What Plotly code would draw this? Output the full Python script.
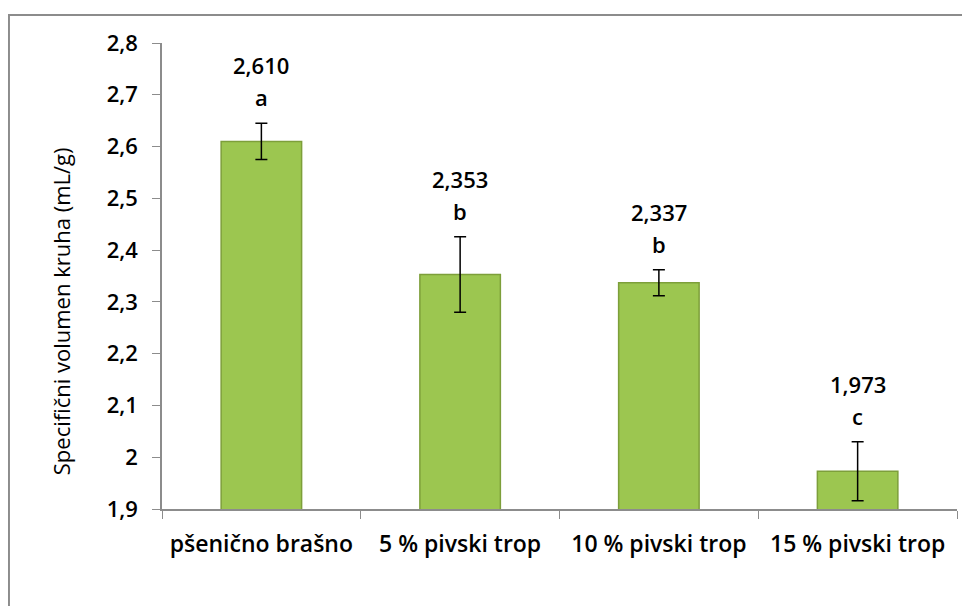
import plotly.graph_objects as go

categories = ["pšenično brašno", "5 % pivski trop", "10 % pivski trop", "15 % pivski trop"]
means = [2.610, 2.353, 2.337, 1.973]
errors = [0.035, 0.073, 0.025, 0.057]
letters = ["a", "b", "b", "c"]
y_ticks = [1.9, 2.0, 2.1, 2.2, 2.3, 2.4, 2.5, 2.6, 2.7, 2.8]
y_tick_labels = ["1,9", "2", "2,1", "2,2", "2,3", "2,4", "2,5", "2,6", "2,7", "2,8"]
y_title = "Specifični volumen kruha (mL/g)"

font_name = "Open Sans"
x_font = dict(family=font_name, size=23, color="black", weight=600)
y_font = dict(family=font_name, size=22, color="black", weight=600)
ann_font = dict(family=font_name, size=22, color="black", weight=600)

fig = go.Figure()
fig.add_trace(go.Bar(
    x=categories,
    y=means,
    width=0.405,
    marker=dict(color="#9cc650", line=dict(color="#7d9f3a", width=1.5)),
    error_y=dict(type="data", array=errors, visible=True,
                 color="black", thickness=1.5, width=6),
))

# mean value and letter above each error bar
for cat, m, e, let in zip(categories, means, errors, letters):
    fig.add_annotation(x=cat, y=m + e, text=let, showarrow=False,
                       yanchor="bottom", yshift=9, font=ann_font)
    fig.add_annotation(x=cat, y=m + e, text=f"{m:.3f}".replace(".", ","),
                       showarrow=False, yanchor="bottom", yshift=41,
                       font=ann_font)

# y title sits a bit below the middle, as in the original
fig.add_annotation(xref="paper", yref="paper", x=-0.126, y=0.424,
                   xanchor="center", yanchor="middle",
                   text=y_title, textangle=-90, showarrow=False,
                   font=dict(family=font_name, size=22, color="black"))

# outer chart border
fig.add_shape(type="rect", xref="paper", yref="paper",
              x0=-0.1925, y0=-0.3, x1=1.05, y1=1.060,
              line=dict(color="#8c8c8c", width=2), layer="below")

# page body adds an 8 px margin, so the figure is sized to fit the window
fig.update_layout(
    width=962, height=598,
    margin=dict(l=154, r=13, t=35, b=97),
    plot_bgcolor="white", paper_bgcolor="white",
    showlegend=False,
    font=dict(family=font_name, size=20, color="black"),
    xaxis=dict(
        showline=True, linecolor="#8c8c8c", linewidth=1.5,
        ticks="outside", tickson="boundaries", ticklen=8, tickcolor="#8c8c8c",
        tickfont=x_font, ticklabelstandoff=14,
        showgrid=False,
    ),
    yaxis=dict(
        range=[1.9, 2.8], tickvals=y_ticks, ticktext=y_tick_labels,
        showline=True, linecolor="#8c8c8c", linewidth=1.5,
        ticks="outside", ticklen=8, tickcolor="#8c8c8c",
        tickfont=y_font, ticklabelstandoff=10,
        showgrid=False, zeroline=False,
    ),
)

fig.write_html("out.html")
